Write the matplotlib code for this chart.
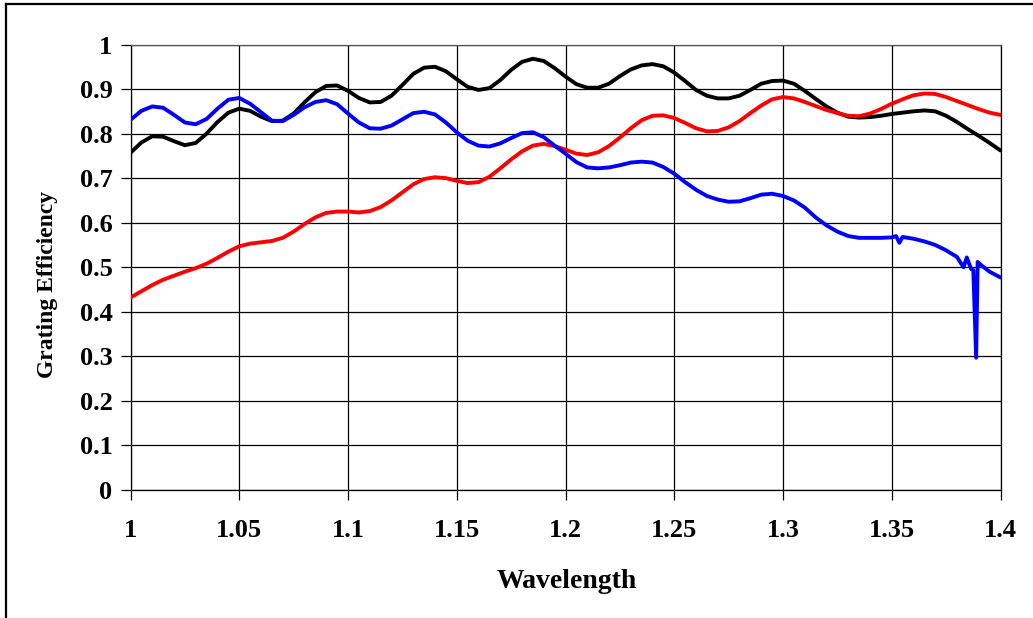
import matplotlib
matplotlib.use("Agg")
import matplotlib.pyplot as plt
from matplotlib.lines import Line2D

# Wavelength grid (0.005 steps) shared by the smooth parts of the curves
wl = [1.000, 1.005, 1.010, 1.015, 1.020, 1.025, 1.030, 1.035, 1.040, 1.045,
      1.050, 1.055, 1.060, 1.065, 1.070, 1.075, 1.080, 1.085, 1.090, 1.095,
      1.100, 1.105, 1.110, 1.115, 1.120, 1.125, 1.130, 1.135, 1.140, 1.145,
      1.150, 1.155, 1.160, 1.165, 1.170, 1.175, 1.180, 1.185, 1.190, 1.195,
      1.200, 1.205, 1.210, 1.215, 1.220, 1.225, 1.230, 1.235, 1.240, 1.245,
      1.250, 1.255, 1.260, 1.265, 1.270, 1.275, 1.280, 1.285, 1.290, 1.295,
      1.300, 1.305, 1.310, 1.315, 1.320, 1.325, 1.330, 1.335, 1.340, 1.345,
      1.350, 1.355, 1.360, 1.365, 1.370, 1.375, 1.380, 1.385, 1.390, 1.395,
      1.400]

black_eff = [0.757, 0.780, 0.794, 0.793, 0.783, 0.774, 0.779, 0.800, 0.826, 0.847,
             0.856, 0.851, 0.838, 0.828, 0.829, 0.845, 0.870, 0.893, 0.907, 0.908,
             0.896, 0.880, 0.870, 0.871, 0.885, 0.909, 0.934, 0.948, 0.950, 0.940,
             0.922, 0.905, 0.898, 0.902, 0.920, 0.943, 0.961, 0.968, 0.963, 0.947,
             0.928, 0.911, 0.903, 0.903, 0.912, 0.929, 0.944, 0.953, 0.956, 0.951,
             0.937, 0.918, 0.898, 0.885, 0.879, 0.879, 0.885, 0.898, 0.912, 0.918,
             0.919, 0.912, 0.896, 0.878, 0.861, 0.847, 0.838, 0.836, 0.837, 0.840,
             0.844, 0.847, 0.850, 0.852, 0.850, 0.840, 0.826, 0.810, 0.795, 0.779,
             0.762]

red_eff = [0.432, 0.446, 0.460, 0.472, 0.481, 0.490, 0.498, 0.508, 0.521, 0.535,
           0.547, 0.553, 0.556, 0.559, 0.566, 0.580, 0.597, 0.612, 0.622, 0.625,
           0.625, 0.623, 0.626, 0.635, 0.650, 0.668, 0.686, 0.698, 0.702, 0.700,
           0.694, 0.689, 0.691, 0.703, 0.722, 0.742, 0.760, 0.773, 0.777, 0.772,
           0.764, 0.755, 0.752, 0.758, 0.772, 0.791, 0.812, 0.830, 0.840, 0.841,
           0.835, 0.824, 0.812, 0.805, 0.806, 0.814, 0.828, 0.846, 0.863, 0.877,
           0.882, 0.879, 0.871, 0.862, 0.853, 0.846, 0.840, 0.839, 0.845, 0.855,
           0.867, 0.877, 0.886, 0.890, 0.889, 0.882, 0.873, 0.864, 0.855, 0.847,
           0.842]

# Blue series has glitches near the long-wavelength end, so it keeps its own grid
blue_wl = [1.000, 1.005, 1.010, 1.015, 1.020, 1.025, 1.030, 1.035, 1.040, 1.045,
           1.050, 1.055, 1.060, 1.065, 1.070, 1.075, 1.080, 1.085, 1.090, 1.095,
           1.100, 1.105, 1.110, 1.115, 1.120, 1.125, 1.130, 1.135, 1.140, 1.145,
           1.150, 1.155, 1.160, 1.165, 1.170, 1.175, 1.180, 1.185, 1.190, 1.195,
           1.200, 1.205, 1.210, 1.215, 1.220, 1.225, 1.230, 1.235, 1.240, 1.245,
           1.250, 1.255, 1.260, 1.265, 1.270, 1.275, 1.280, 1.285, 1.290, 1.295,
           1.300, 1.305, 1.310, 1.315, 1.320, 1.325, 1.330, 1.335, 1.340, 1.345,
           1.350, 1.352, 1.3535, 1.355, 1.360, 1.365, 1.370, 1.375, 1.380, 1.383,
           1.3845, 1.3865, 1.3875, 1.3888, 1.3895, 1.391, 1.395, 1.400]
blue_eff = [0.831, 0.851, 0.861, 0.858, 0.842, 0.825, 0.821, 0.833, 0.856, 0.876,
            0.880, 0.867, 0.848, 0.829, 0.828, 0.842, 0.859, 0.871, 0.875, 0.866,
            0.845, 0.825, 0.812, 0.811, 0.818, 0.832, 0.846, 0.849, 0.843, 0.825,
            0.803, 0.784, 0.773, 0.771, 0.778, 0.790, 0.801, 0.803, 0.792, 0.773,
            0.755, 0.736, 0.724, 0.722, 0.724, 0.729, 0.735, 0.737, 0.735, 0.725,
            0.710, 0.691, 0.674, 0.660, 0.652, 0.647, 0.648, 0.655, 0.663, 0.665,
            0.660, 0.650, 0.634, 0.612, 0.594, 0.580, 0.570, 0.566, 0.566, 0.566,
            0.567, 0.570, 0.555, 0.568, 0.564, 0.558, 0.550, 0.538, 0.523, 0.500,
            0.522, 0.496, 0.494, 0.297, 0.512, 0.505, 0.490, 0.477]

x_ticks = [1.0, 1.05, 1.1, 1.15, 1.2, 1.25, 1.3, 1.35, 1.4]
x_tick_labels = ["1", "1.05", "1.1", "1.15", "1.2", "1.25", "1.3", "1.35", "1.4"]
y_ticks = [0, 0.1, 0.2, 0.3, 0.4, 0.5, 0.6, 0.7, 0.8, 0.9, 1.0]
y_tick_labels = ["0", "0.1", "0.2", "0.3", "0.4", "0.5", "0.6", "0.7", "0.8", "0.9", "1"]

plt.rcParams["font.family"] = ["Liberation Serif", "DejaVu Serif"]
plt.rcParams["font.weight"] = "bold"

W, H = 1033, 618
fig = plt.figure(figsize=(W / 100, H / 100), dpi=100)
fig.patch.set_facecolor("white")

# Outer chart frame (top and left edges)
fig.add_artist(Line2D([6 / W, 6 / W], [0, 1 - 4 / H], transform=fig.transFigure,
                      color="black", lw=1.6))
fig.add_artist(Line2D([6 / W, 1], [1 - 4 / H, 1 - 4 / H], transform=fig.transFigure,
                      color="black", lw=1.6))

left, right, top, bottom = 130.5, 1000.5, 44.5, 490
ax = fig.add_axes([left / W, 1 - bottom / H, (right - left) / W, (bottom - top) / H])

ax.plot(wl, black_eff, color="black", lw=2.8, solid_joinstyle="round",
        solid_capstyle="round", zorder=3)
ax.plot(wl, red_eff, color="#ff0000", lw=2.8, solid_joinstyle="round",
        solid_capstyle="round", zorder=4)
ax.plot(blue_wl, blue_eff, color="#0000ff", lw=2.8, solid_joinstyle="round",
        solid_capstyle="round", zorder=5)

ax.set_xlim(1.0, 1.4)
ax.set_ylim(0, 1)
ax.set_xticks(x_ticks)
ax.set_xticklabels(x_tick_labels)
ax.set_yticks(y_ticks)
ax.set_yticklabels(y_tick_labels)
ax.grid(True, color="black", lw=0.9, zorder=1)
ax.set_axisbelow(True)

ax.tick_params(axis="both", direction="out", length=7, width=0.9, color="black",
               labelsize=19, pad=6)
ax.tick_params(axis="x", pad=14)
for lab in ax.get_xticklabels() + ax.get_yticklabels():
    lab.set_fontweight("bold")

for side in ["left", "bottom", "right"]:
    ax.spines[side].set_color("black")
    ax.spines[side].set_linewidth(0.9)
ax.spines["top"].set_color("#555555")
ax.spines["top"].set_linewidth(0.9)

ax.set_xlabel("Wavelength", fontsize=20, fontweight="bold")
ax.set_ylabel("Grating Efficiency", fontsize=17, fontweight="bold")
# Place the axis titles by pixel position within the figure
ax.xaxis.set_label_coords(567 / W, 1 - 582 / H, transform=fig.transFigure)
ax.yaxis.set_label_coords(48 / W, 1 - 284 / H, transform=fig.transFigure)
ax.xaxis.label.set_va("center")
ax.yaxis.label.set_va("center")

fig.savefig("out.png", dpi=100, facecolor="white")
